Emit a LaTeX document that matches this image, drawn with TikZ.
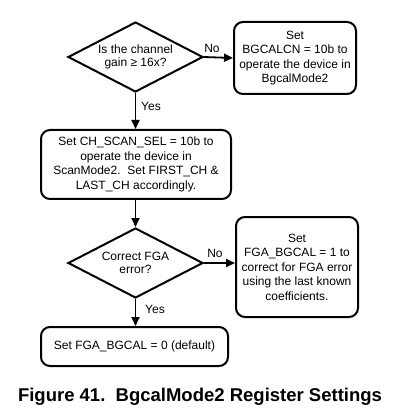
\documentclass[tikz,border=0pt]{standalone}
\usepackage{fontspec}
\setmainfont{Liberation Sans}
\usetikzlibrary{shapes.geometric,arrows.meta}
\begin{document}
\begin{tikzpicture}[x=1pt,y=-1pt,
  decision/.style={diamond,draw,line width=2pt,minimum width=135pt,minimum height=70pt,inner sep=0pt,aspect=1.93,align=center,font=\fontsize{12}{13.3}\selectfont},
  stepbox/.style={draw,line width=2pt,rounded corners=9pt,align=center,inner sep=0pt,font=\fontsize{12}{14.5}\selectfont},
  flow/.style={line width=1.8pt,-{Triangle[length=9pt,width=8pt]}},
  lbl/.style={font=\fontsize{12}{14}\selectfont}]
\useasboundingbox (0,0) rectangle (402,411);
\node[decision] (gain) at (135.5,57) {Is the channel\\gain ≥ 16x?};
\node[stepbox,minimum width=122pt,minimum height=72pt] (bgcal) at (295,58) {Set\\BGCALCN = 10b to\\operate the device in\\BgcalMode2};
\draw[flow] (gain.east) -- (bgcal.west);
\node[lbl] (no1) at (212,48) {No};

\node[stepbox,minimum width=190pt,minimum height=69pt] (scan) at (136,164.5) {Set CH\_SCAN\_SEL = 10b to\\operate the device in\\ScanMode2.\ \ Set FIRST\_CH \&\\LAST\_CH accordingly.};
\draw[flow] (gain.south) -- (scan.north -| gain.south);
\node[lbl] (yes1) at (151,106) {Yes};

\node[decision] (fga) at (135.5,263) {Correct FGA\\error?};
\draw[flow] (scan.south -| fga.north) -- (fga.north);

\node[stepbox,minimum width=122pt,minimum height=100pt] (fgaset) at (297,267) {Set\\FGA\_BGCAL = 1 to\\correct for FGA error\\using the last known\\coefficients.};
\draw[flow] (fga.east) -- (fga.east -| fgaset.west);
\node[lbl] (no2) at (215,253) {No};

\node[stepbox,minimum width=187pt,minimum height=39pt] (dflt) at (134.5,346.5) {Set FGA\_BGCAL = 0 (default)};
\draw[flow] (fga.south) -- (dflt.north -| fga.south);
\node[lbl] (yes2) at (155,309) {Yes};

\node[anchor=base,font=\fontsize{18.5}{20}\selectfont\bfseries] (cap) at (200,401) {Figure 41.\ \ BgcalMode2 Register Settings};
\end{tikzpicture}
\end{document}
